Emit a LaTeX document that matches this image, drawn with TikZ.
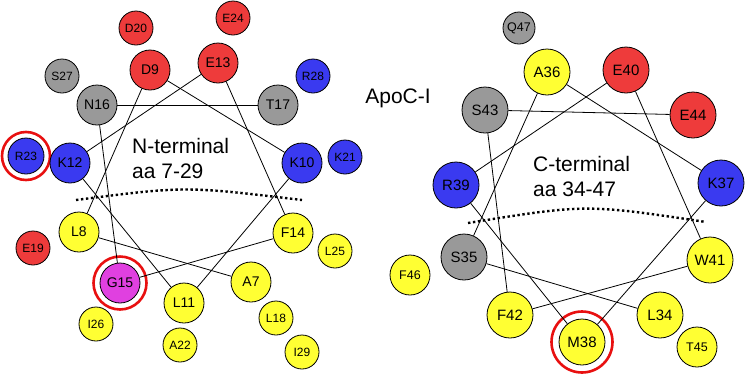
\documentclass[tikz,border=0pt]{standalone}
\usepackage{fontspec}
\setmainfont{Liberation Sans}
\definecolor{cred}{RGB}{238,59,59}
\definecolor{cblue}{RGB}{58,58,240}
\definecolor{cgray}{RGB}{153,153,153}
\definecolor{cyel}{RGB}{255,255,51}
\definecolor{cmag}{RGB}{224,64,224}
\definecolor{cring}{RGB}{232,16,16}
\tikzset{
  res/.style={circle,draw=black,line width=0.8pt,inner sep=0pt},
  lbig/.style={res,minimum size=40pt,font=\fontsize{14}{14}\selectfont},
  lsmall/.style={res,minimum size=34pt,font=\fontsize{12}{12}\selectfont},
  rbig/.style={res,minimum size=46pt,font=\fontsize{15}{15}\selectfont},
  rsmall/.style={res,minimum size=40pt,font=\fontsize{12.5}{12.5}\selectfont},
  ring/.style={circle,draw=cring,line width=2.6pt,inner sep=0pt},
  conn/.style={line width=0.8pt},
  dots/.style={line width=2.4pt,dash pattern=on 2.4pt off 2.6pt},
  title/.style={font=\fontsize{21}{25}\selectfont,align=left,anchor=west,inner sep=0pt}
}
\begin{document}
\begin{tikzpicture}[x=1pt,y=-1pt]
\useasboundingbox (0,0) rectangle (747,373);
% ---------- left helix ----------
\node[ring,minimum size=48pt] (R23ring) at (26,156) {};
\node[ring,minimum size=53pt] (G15ring) at (120,283) {};
\node[lbig,fill=cred] (D9) at (150,70) {D9};
\node[lbig,fill=cred] (E13) at (218,63) {E13};
\node[lbig,fill=cgray] (N16) at (97,105) {N16};
\node[lbig,fill=cgray] (T17) at (278,105) {T17};
\node[lbig,fill=cblue] (K12) at (70,163) {K12};
\node[lbig,fill=cblue] (K10) at (302,163) {K10};
\node[lbig,fill=cyel] (L8) at (79,232) {L8};
\node[lbig,fill=cyel] (F14) at (293,233) {F14};
\node[lbig,fill=cmag] (G15) at (120,283) {G15};
\node[lbig,fill=cyel] (L11) at (184,303) {L11};
\node[lbig,fill=cyel] (A7) at (251,282) {A7};
\node[lsmall,fill=cred] (D20) at (136,28) {D20};
\node[lsmall,fill=cred] (E24) at (233,18) {E24};
\node[lsmall,fill=cgray] (S27) at (62,76) {S27};
\node[lsmall,fill=cblue] (R28) at (313,76) {R28};
\node[lsmall,fill=cblue,minimum size=36pt] (R23) at (26,156) {R23};
\node[lsmall,fill=cblue] (K21) at (345,157) {K21};
\node[lsmall,fill=cred] (E19) at (33,248) {E19};
\node[lsmall,fill=cyel] (L25) at (335,251) {L25};
\node[lsmall,fill=cyel] (I26) at (96,324) {I26};
\node[lsmall,fill=cyel] (A22) at (180,345) {A22};
\node[lsmall,fill=cyel] (L18) at (276,318) {L18};
\node[lsmall,fill=cyel] (I29) at (302,352) {I29};
\draw[conn] (A7) -- (L8);
\draw[conn] (L8) -- (D9);
\draw[conn] (D9) -- (K10);
\draw[conn] (K10) -- (L11);
\draw[conn] (L11) -- (K12);
\draw[conn] (K12) -- (E13);
\draw[conn] (E13) -- (F14);
\draw[conn] (F14) -- (G15);
\draw[conn] (G15) -- (N16);
\draw[conn] (N16) -- (T17);
\node[title] (ntitle) at (132,158) {N-terminal\\aa 7-29};
\coordinate (dl1) at (76,200);
\coordinate (dl2) at (302,200);
\draw[dots] (dl1) .. controls (185,186) .. (dl2);
% ---------- title ----------
\node[font=\fontsize{21}{21}\selectfont,inner sep=0pt] (apoc) at (398,98) {ApoC-I};
% ---------- right helix ----------
\node[ring,minimum size=61pt] (M38ring) at (582,342) {};
\node[rbig,fill=cyel] (A36) at (547,72) {A36};
\node[rbig,fill=cred] (E40) at (626,70) {E40};
\node[rbig,fill=cgray] (S43) at (485,110) {S43};
\node[rbig,fill=cred] (E44) at (693,115) {E44};
\node[rbig,fill=cblue] (R39) at (456,185) {R39};
\node[rbig,fill=cblue] (K37) at (721,183) {K37};
\node[rbig,fill=cgray] (S35) at (464,257) {S35};
\node[rbig,fill=cyel] (W41) at (710,260) {W41};
\node[rbig,fill=cyel] (F42) at (510,315) {F42};
\node[rbig,fill=cyel] (L34) at (660,315) {L34};
\node[rbig,fill=cyel] (M38) at (582,342) {M38};
\node[rsmall,fill=cgray,minimum size=32pt] (Q47) at (519,28) {Q47};
\node[rsmall,fill=cyel] (F46) at (410,275) {F46};
\node[rsmall,fill=cyel] (T45) at (697,347) {T45};
\draw[conn] (L34) -- (S35);
\draw[conn] (S35) -- (A36);
\draw[conn] (A36) -- (K37);
\draw[conn] (K37) -- (M38);
\draw[conn] (M38) -- (R39);
\draw[conn] (R39) -- (E40);
\draw[conn] (E40) -- (W41);
\draw[conn] (W41) -- (F42);
\draw[conn] (F42) -- (S43);
\draw[conn] (S43) -- (E44);
\node[title] (ctitle) at (533,176) {C-terminal\\aa 34-47};
\coordinate (dr1) at (468,223);
\coordinate (dr2) at (706,222);
\draw[dots] (dr1) .. controls (586,204) .. (dr2);
\end{tikzpicture}
\end{document}
